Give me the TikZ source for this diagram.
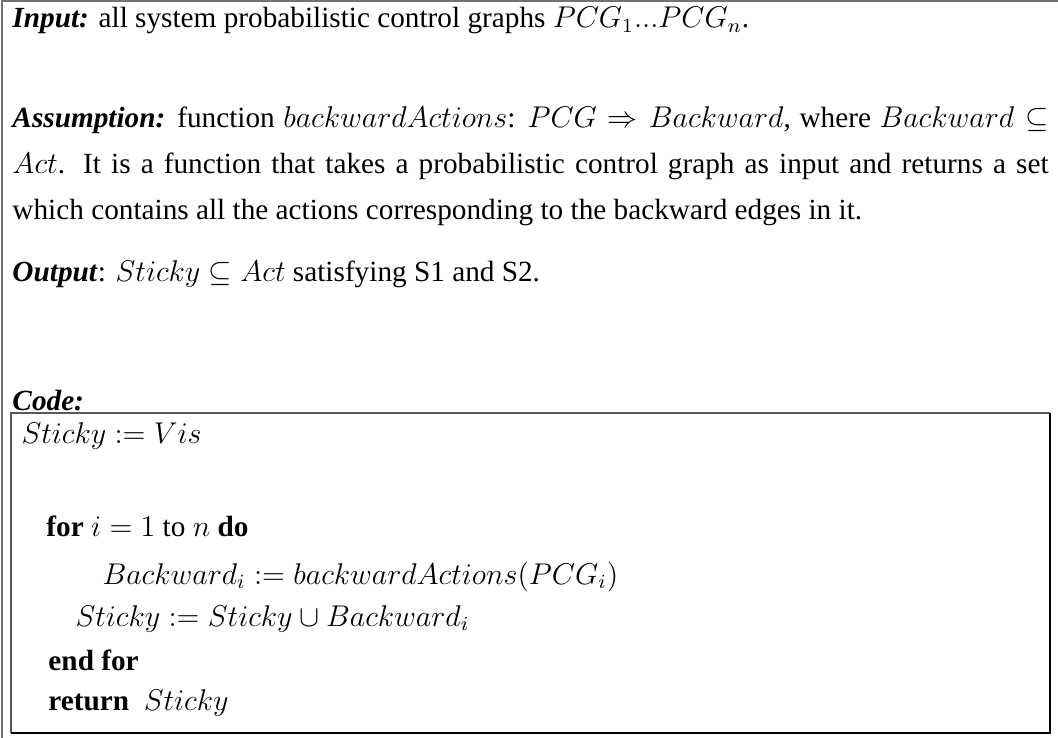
\documentclass[tikz,border=0pt]{standalone}
\usepackage[no-math]{fontspec}
\setmainfont{Liberation Serif}

\begin{document}
\begin{tikzpicture}[x=0.4pt,y=-0.4pt,
    txt/.style={anchor=base west,inner sep=0pt,font=\fontsize{11.7}{14}\selectfont}]
  \useasboundingbox (0,0) rectangle (1058,738);
  % outer frame, open at right and bottom
  \draw[black!55,line width=0.5pt] (2,738) -- (2,1) -- (1058,1);
  \node[txt] (input) at (12,28)
    {\textbf{\textit{Input:}} all system probabilistic control graphs $PCG_1...PCG_n$.};
  \node[txt,text width=414.4pt,align=justify,
    font=\fontsize{11.7}{18.4}\selectfont] (assume) at (12,128)
    {\textbf{\textit{Assumption:}} function $backwardActions$: $PCG \Rightarrow Backward$,
     where $Backward \subseteq$\linebreak $Act$. It is a function that takes a probabilistic
     control graph as input and returns a set\linebreak which contains all the actions
     corresponding to the backward edges in it.};
  \node[txt] (output) at (12,282)
    {\textbf{\textit{Output}}: $Sticky \subseteq Act$ satisfying S1 and S2.};
  \node[txt] (code) at (12,411) {\textbf{\textit{Code:}}};
  % code frame
  \draw[black!65,line width=0.5pt] (11,733) -- (11,413) -- (1050,413);
  \draw[black,line width=0.7pt] (1050,413) -- (1050,733) -- (11,733);
  \node[txt] (init) at (21,443) {$Sticky := Vis$};
  \node[txt] (loop) at (46,536) {\textbf{for} $i = 1$ to $n$ \textbf{do}};
  \node[txt] (back) at (102,584) {$Backward_i := backwardActions(PCG_i)$};
  \node[txt] (union) at (75,626) {$Sticky := Sticky \cup Backward_i$};
  \node[txt] (endloop) at (48,670) {\textbf{end for}};
  \node[txt] (ret) at (48,710) {\textbf{return}\ \ $Sticky$};
\end{tikzpicture}
\end{document}
